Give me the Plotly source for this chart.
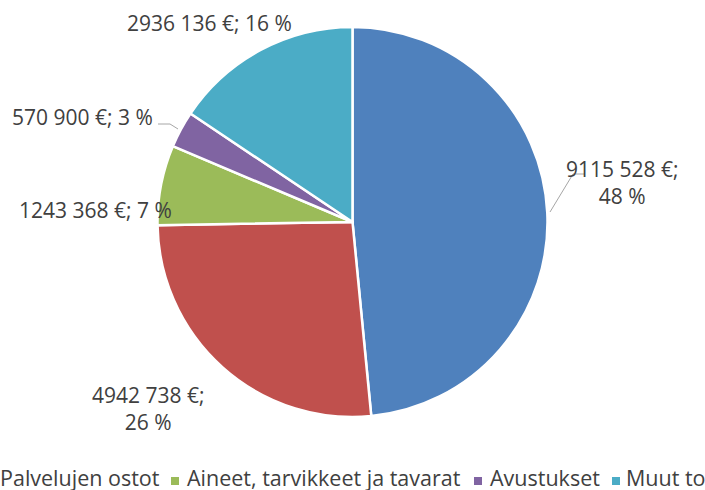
import plotly.graph_objects as go

categories = ["Henkilöstökulut", "Palvelujen ostot", "Aineet, tarvikkeet ja tavarat", "Avustukset", "Muut toimintakulut"]
values = [9115528, 4942738, 1243368, 570900, 2936136]
colors = ["#4F81BD", "#C0504D", "#9BBB59", "#8064A2", "#4BACC6"]

total = sum(values)

def fmt(v):
    return f"{v // 1000} {v % 1000:03d}"

labels_txt = [f"{fmt(v)} €; {round(v / total * 100)} %" for v in values]

FONT = "Open Sans, Lato, sans-serif"
TXT = "#404040"

fig = go.Figure(go.Pie(
    labels=categories,
    values=values,
    sort=False,
    direction="clockwise",
    rotation=0,
    marker=dict(colors=colors, line=dict(color="white", width=2.5)),
    textinfo="none",
    hoverinfo="label+value+percent",
    domain=dict(x=[157/705, 548/705], y=[1-417/490, 1-27/490]),
    showlegend=False,
))

def px(x, y):
    return x/705, 1-y/490

# data label positions (pixel centres) and line-break choices
label_pos = [
    (622, 182, True),
    (148, 408, True),
    (95, 210, False),
    (82, 117, False),
    (209, 23, False),
]
annotations = []
for txt, (x, y, wrap) in zip(labels_txt, label_pos):
    t = txt.replace("; ", ";<br>") if wrap else txt
    xp, yp = px(x, y)
    annotations.append(dict(x=xp, y=yp, xref="paper", yref="paper", text=t, showarrow=False,
                            font=dict(family=FONT, size=21, color=TXT), align="center",
                            xanchor="center", yanchor="middle"))

shapes = []
# leader lines
for pts in [[(550, 212), (573, 174), (585, 174)], [(158, 124), (170, 124), (178, 129)]]:
    for (a, b) in zip(pts[:-1], pts[1:]):
        x0, y0 = px(*a); x1, y1 = px(*b)
        shapes.append(dict(type="line", xref="paper", yref="paper", x0=x0, y0=y0, x1=x1, y1=y1,
                           line=dict(color="#A6A6A6", width=1)))

# legend (the reference is clipped at the page edges; first entry lies fully off-page)
legend_x = [None, (-16, -2), (171, 185), (474, 488), (612, 624)]
for name, c, pos in zip(categories, colors, legend_x):
    if pos is None:
        continue
    sx, tx = pos
    x0, y0 = px(sx, 477); x1, y1 = px(sx + 8, 485)
    shapes.append(dict(type="rect", xref="paper", yref="paper", x0=x0, y0=y0, x1=x1, y1=y1,
                       fillcolor=c, line=dict(width=0)))
    xp, yp = px(tx, 477)
    annotations.append(dict(x=xp, y=yp, xref="paper", yref="paper", text=name, showarrow=False,
                            font=dict(family=FONT, size=21.5, color=TXT), xanchor="left", yanchor="middle"))

fig.update_layout(
    width=705, height=490,
    margin=dict(l=0, r=0, t=0, b=0),
    paper_bgcolor="white", plot_bgcolor="white",
    annotations=annotations, shapes=shapes,
    font=dict(family=FONT, color=TXT),
)

fig.write_html("out.html")
